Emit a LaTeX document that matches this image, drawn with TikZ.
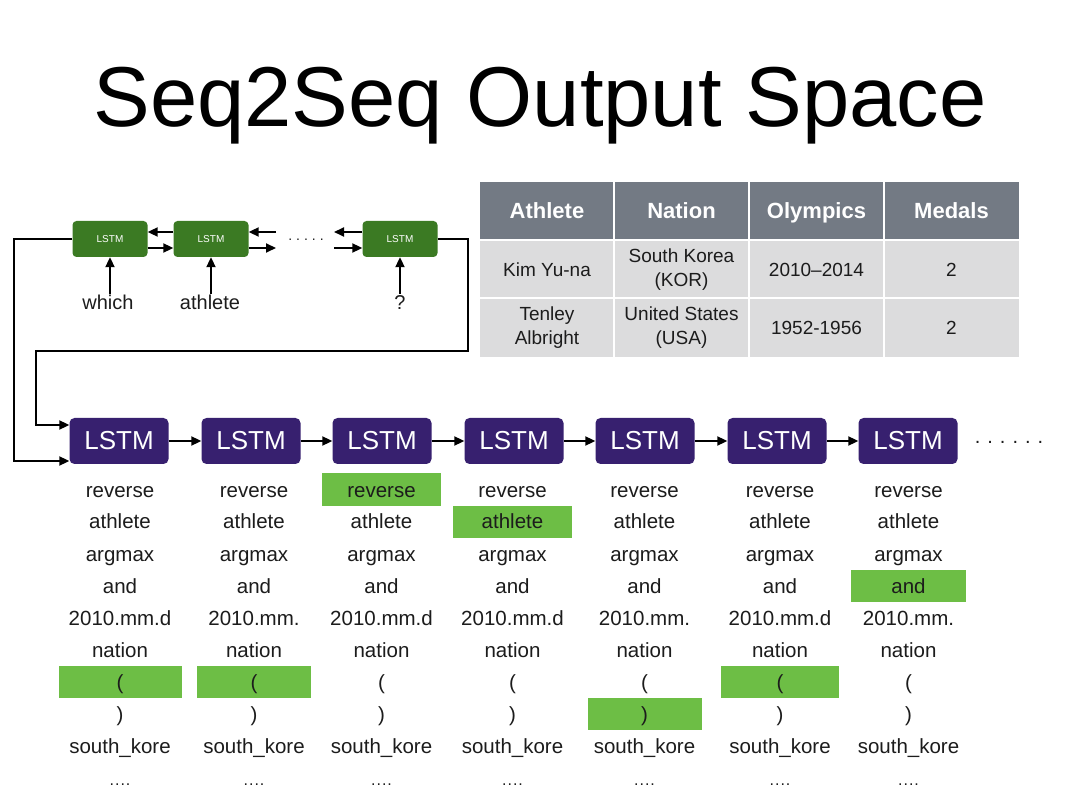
\documentclass[tikz,border=0pt]{standalone}
\usepackage{fontspec}
\setmainfont{Liberation Sans}
\usetikzlibrary{arrows.meta}
\definecolor{lstmgreen}{HTML}{3B7A23}
\definecolor{lstmpurple}{HTML}{37206F}
\definecolor{hl}{HTML}{6DBE45}
\definecolor{thead}{HTML}{737A84}
\definecolor{tbody}{HTML}{DCDCDD}
\definecolor{ink}{HTML}{1C1C1C}
\newcommand{\myfourdots}{{\fontsize{16}{16}\selectfont .\kern1pt.\kern1pt.\kern1pt.}}
\newcommand{\mylp}{(}
\newcommand{\myrp}{)}
\tikzset{
  smallbox/.style={fill=lstmgreen, rounded corners=4pt, minimum width=75pt, minimum height=36pt, inner sep=0pt, text=white, font=\fontsize{10}{10}\selectfont},
  bigbox/.style={fill=lstmpurple, rounded corners=5pt, minimum width=99pt, minimum height=46pt, inner sep=0pt, text=white, font=\fontsize{26}{26}\selectfont},
  arr/.style={line width=2pt, -{Triangle[length=10pt,width=9pt]}},
  feed/.style={line width=2pt, -{Triangle[length=10pt,width=9pt]}},
  word/.style={text=ink, font=\fontsize{20.5}{20.5}\selectfont, inner sep=0pt, anchor=base},
  lab/.style={text=ink, font=\fontsize{20}{20}\selectfont, inner sep=1pt},
  thtext/.style={text=white, font=\bfseries\fontsize{22}{22}\selectfont, anchor=base},
  tbtext/.style={text=ink, font=\fontsize{19}{24}\selectfont, align=center},
  dotrow/.style={text=ink, inner sep=0pt, anchor=base},
}
\begin{document}
\begin{tikzpicture}[x=1pt,y=-1pt]
\useasboundingbox[fill=white] (0,0) rectangle (1080,810);
% title
\node[anchor=base, text=black, font=\fontsize{85}{85}\selectfont] (title) at (540,127) {Seq2Seq Output Space};

% encoder
\node[smallbox] (s1) at (110,239) {LSTM};
\node[smallbox] (s2) at (211,239) {LSTM};
\node[smallbox] (s3) at (400,239) {LSTM};
\node[dotrow, font=\fontsize{14}{14}\selectfont] (sdots) at (306,241) {.\hspace{4pt}.\hspace{4pt}.\hspace{4pt}.\hspace{4pt}.};
\coordinate (d1t) at (276,232);
\coordinate (d1b) at (276,248);
\coordinate (d2t) at (334,232);
\coordinate (d2b) at (334,248);
\draw[arr] ([yshift=7pt]s2.west) -- ([yshift=7pt]s1.east);
\draw[arr] ([yshift=-9pt]s1.east) -- ([yshift=-9pt]s2.west);
\draw[arr] (d1t) -- (d1t -| s2.east);
\draw[arr] (d1b -| s2.east) -- (d1b);
\draw[arr] (d2t -| s3.west) -- (d2t);
\draw[arr] (d2b) -- (d2b -| s3.west);

\node[lab, anchor=north] (q1) at (108,294) {which};
\node[lab, anchor=north] (q2) at (210,294) {athlete};
\node[lab, anchor=north] (q3) at (400,294) {?};
\draw[arr] (q1.north -| s1.south) -- (s1.south);
\draw[arr] (q2.north -| s2.south) -- (s2.south);
\draw[arr] (q3.north -| s3.south) -- (s3.south);

% table
\fill[thead] (480,182) rectangle (1019,240);
\fill[tbody] (480,240) rectangle (1019,357);
\foreach \xx in {614,749,884} \draw[white, line width=1.5pt] (\xx,182) -- (\xx,357);
\draw[white, line width=1.5pt] (480,240) -- (1019,240);
\draw[white, line width=1.5pt] (480,298) -- (1019,298);
\node[thtext] (h1) at (547,219) {Athlete};
\node[thtext] (h2) at (681.5,219) {Nation};
\node[thtext] (h3) at (816.5,219) {Olympics};
\node[thtext] (h4) at (951.5,219) {Medals};
\node[tbtext] (r11) at (547,270) {Kim Yu-na};
\node[tbtext] (r12) at (681.5,270) {South Korea\\(KOR)};
\node[tbtext] (r13) at (816.5,270) {2010–2014};
\node[tbtext] (r14) at (951.5,270) {2};
\node[tbtext] (r21) at (547,328) {Tenley\\Albright};
\node[tbtext] (r22) at (681.5,328) {United States\\(USA)};
\node[tbtext] (r23) at (816.5,328) {1952-1956};
\node[tbtext] (r24) at (951.5,328) {2};

% decoder
\foreach \i/\cx in {1/119,2/251,3/382,4/514,5/645,6/777,7/908}
  \node[bigbox] (b\i) at (\cx,441) {LSTM};
\foreach \a/\b in {1/2,2/3,3/4,4/5,5/6,6/7}
  \draw[arr] (b\a) -- (b\b);
\node[dotrow, font=\fontsize{20}{20}\selectfont] (bdots) at (1009,443) {.\hspace{7pt}.\hspace{7pt}.\hspace{7pt}.\hspace{7pt}.\hspace{7pt}.};

% feedback connectors
\coordinate (l1) at (14,300);
\coordinate (r1) at (468,351);
\coordinate (l2) at (36,351);
\draw[feed] (s1.west) -| (l1) |- ([yshift=-20pt]b1.west);
\draw[feed] (s3.east) -| (r1) -- (l2) |- ([yshift=16pt]b1.west);

% candidate columns
\foreach \i/\cx/\hw/\hr/\dt in {1/120/123/6/2010.mm.d, 2/254/114/6/2010.mm., 3/381.5/119/0/2010.mm.d, 4/512.5/119/1/2010.mm.d, 5/644.5/114/7/2010.mm., 6/780/118/6/2010.mm.d, 7/908.5/115/3/2010.mm.}{
  \fill[hl] ({\cx-\hw/2},{473.5+32*\hr}) rectangle ++(\hw,32);
  \foreach \w [count=\k from 0] in {reverse,athlete,argmax,and,\dt,nation,\mylp,\myrp,south\_kore,\myfourdots}
    \node[word] (c\i r\k) at (\cx,{497+32*\k}) {\w};
}
\end{tikzpicture}
\end{document}
